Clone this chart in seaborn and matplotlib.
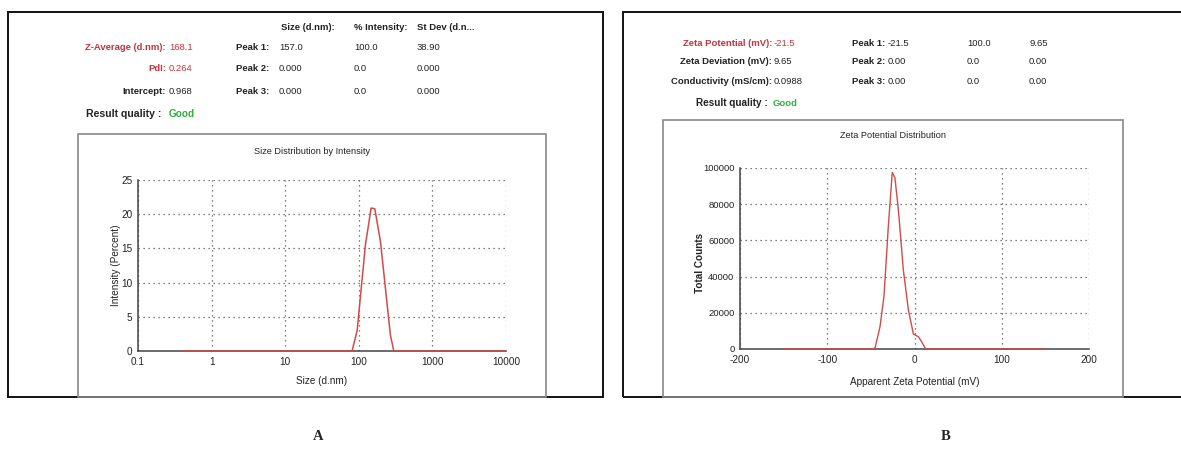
import numpy as np
import pandas as pd
import matplotlib
matplotlib.use('Agg')
import matplotlib.pyplot as plt
from matplotlib.patches import Rectangle
import matplotlib.ticker as mticker
import seaborn as sns

# DATA
size_nm = [0.4, 81, 95, 123, 147, 165, 197, 269, 299, 10000]
intensity_pct = [0, 0, 3.0, 15.5, 20.9, 20.8, 16.0, 2.3, 0, 0]

zeta_mv = [-150, -47, -45, -39.5, -35, -30, -25.5, -22.4, -18.5, -12.8, -7, -1.3, 4.4, 8.2, 12.8, 150]
zeta_counts = [0, 0, 1000, 12400, 29000, 67700, 97600, 94500, 77000, 43700, 21600, 8300, 6800, 4000, 0, 0]

size_ticks = [0.1, 1, 10, 100, 1000, 10000]
size_ticklabels = ['0.1', '1', '10', '100', '1000', '10000']
int_ticks = [0, 5, 10, 15, 20, 25]
zeta_xticks = [-200, -100, 0, 100, 200]
zeta_yticks = [0, 20000, 40000, 60000, 80000, 100000]

# summary tables
a_cols = ['Size (d.nm):', '% Intensity:', 'St Dev (d.n...']
a_labels = ['Z-Average (d.nm):', 'PdI:', 'Intercept:']
a_values = ['168.1', '0.264', '0.968']
a_peaks = ['Peak 1:', 'Peak 2:', 'Peak 3:']
a_peak_vals = [['157.0', '100.0', '38.90'], ['0.000', '0.0', '0.000'], ['0.000', '0.0', '0.000']]

b_labels = ['Zeta Potential (mV):', 'Zeta Deviation (mV):', 'Conductivity (mS/cm):']
b_values = ['-21.5', '9.65', '0.0988']
b_peaks = ['Peak 1:', 'Peak 2:', 'Peak 3:']
b_peak_vals = [['-21.5', '100.0', '9.65'], ['0.00', '0.0', '0.00'], ['0.00', '0.0', '0.00']]

W, H = 1181, 449
RED = '#c8323c'
LINE = '#d24a4a'
GREEN = '#2fae3c'
FS = 6.8

sns.set_style('white')
plt.rcParams['font.family'] = ['Liberation Sans', 'DejaVu Sans']
plt.rcParams['axes.unicode_minus'] = False

fig = plt.figure(figsize=(W / 100, H / 100), dpi=100)


def fx(x):
    return x / W


def fy(y):
    return 1 - y / H


def box(x0, y0, x1, y1, color, lw):
    fig.add_artist(Rectangle((fx(x0), fy(y1)), fx(x1 - x0), (y1 - y0) / H,
                             transform=fig.transFigure, fill=False,
                             edgecolor=color, linewidth=lw, clip_on=False))


def txt(x, y, s, ha='left', color='#222222', weight='normal', size=FS, **kw):
    fig.text(fx(x), fy(y), s, ha=ha, va='center', color=color,
             fontweight=weight, fontsize=size, **kw)


def make_ax(l, t, r, b):
    return fig.add_axes([fx(l), fy(b), fx(r - l), (b - t) / H])


def style_ax(ax):
    sns.despine(ax=ax)
    for s in ['left', 'bottom']:
        ax.spines[s].set_color('#444444')
        ax.spines[s].set_linewidth(1.1)
    ax.grid(True, which='major', linestyle=(0, (1, 3)), color='#555555', linewidth=0.9)
    ax.tick_params(axis='x', which='major', direction='inout', length=5, width=1,
                   color='#444444', labelsize=7.2, labelcolor='#222222', pad=2)
    ax.tick_params(axis='y', which='major', direction='out', length=3, width=1,
                   color='#444444', labelsize=7.2, labelcolor='#222222', pad=1)
    ax.tick_params(axis='x', which='minor', direction='inout', length=3, width=0.8, color='#444444')
    ax.tick_params(axis='y', which='minor', direction='inout', length=3, width=0.8, color='#444444')
    ax.set_xlabel('')
    ax.set_ylabel('')


# outer and inner frames
box(8, 12, 603, 397, '#111111', 1.4)
box(623, 12, 1190, 397, '#111111', 1.4)
box(78, 134, 546, 397, '#888888', 1.2)
box(663, 120, 1123, 397, '#888888', 1.2)

# ---- panel A ----
axA = make_ax(138, 180, 506, 351)
dfA = pd.DataFrame({'size': size_nm, 'intensity': intensity_pct})
sns.lineplot(data=dfA, x='size', y='intensity', ax=axA, color=LINE, linewidth=1.1, zorder=5)
axA.set_xscale('log')
axA.set_xlim(0.1, 10000)
axA.set_ylim(0, 25)
axA.set_xticks(size_ticks)
axA.set_xticklabels(size_ticklabels)
axA.set_yticks(int_ticks)
axA.xaxis.set_minor_locator(mticker.LogLocator(base=10, subs=np.arange(2, 10)))
axA.xaxis.set_minor_formatter(mticker.NullFormatter())
axA.yaxis.set_minor_locator(mticker.MultipleLocator(2.5))
style_ax(axA)
txt(312, 151, 'Size Distribution by Intensity', ha='center', size=6.6)
txt(322, 381, 'Size (d.nm)', ha='center', size=7.2)
txt(116, 265, 'Intensity (Percent)', ha='center', size=7.2, rotation=90)

# header A
for c, xc in zip(a_cols, [281, 354, 417]):
    txt(xc, 27, c, weight='bold')
for i, yy in enumerate([48, 69, 92]):
    red = i < 2
    txt(166, yy, a_labels[i], ha='right', weight='bold', color=RED if red else '#222222')
    txt(169, yy, a_values[i], color=RED if red else '#222222')
    txt(269, yy, a_peaks[i], ha='right', weight='bold')
    for v, xc in zip(a_peak_vals[i], [279, 354, 417]):
        txt(xc, yy, v)
txt(161, 114, 'Result quality :', ha='right', weight='bold', size=7.6)
txt(169, 114, 'Good', weight='bold', size=7.2, color=GREEN)

# ---- panel B ----
axB = make_ax(740, 168, 1089, 349)
dfB = pd.DataFrame({'zeta': zeta_mv, 'counts': zeta_counts})
sns.lineplot(data=dfB, x='zeta', y='counts', ax=axB, color=LINE, linewidth=1.0, zorder=5)
axB.set_xlim(-200, 200)
axB.set_ylim(0, 100000)
axB.set_xticks(zeta_xticks)
axB.set_yticks(zeta_yticks)
axB.xaxis.set_minor_locator(mticker.MultipleLocator(50))
axB.yaxis.set_minor_locator(mticker.MultipleLocator(10000))
style_ax(axB)
axB.tick_params(axis='y', which='major', labelsize=6.8)
txt(893, 136, 'Zeta Potential Distribution', ha='center', size=6.6)
txt(915, 382, 'Apparent Zeta Potential (mV)', ha='center', size=7.2)
txt(700, 263, 'Total Counts', ha='center', size=7.2, weight='bold', rotation=90)

for i, yy in enumerate([44, 62, 81]):
    red = i == 0
    txt(772, yy, b_labels[i], ha='right', weight='bold', color=RED if red else '#222222')
    txt(774, yy, b_values[i], color=RED if red else '#222222')
    txt(885, yy, b_peaks[i], ha='right', weight='bold')
    for v, xc in zip(b_peak_vals[i], [888, 967, 1029]):
        txt(xc, yy, v)
txt(768, 103, 'Result quality :', ha='right', weight='bold', size=7.2)
txt(773, 103, 'Good', weight='bold', size=6.8, color=GREEN)

# panel letters
fig.text(fx(318), fy(437), 'A', ha='center', va='center', fontsize=10.5,
         fontweight='bold', family='Liberation Serif')
fig.text(fx(946), fy(437), 'B', ha='center', va='center', fontsize=10.5,
         fontweight='bold', family='Liberation Serif')

fig.savefig('out.png', dpi=100, facecolor='white')
